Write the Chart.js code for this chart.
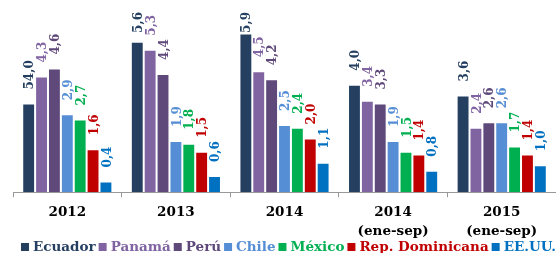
<!DOCTYPE html>
<html>
<head>
<meta charset="utf-8">
<script src="https://cdn.jsdelivr.net/npm/chart.js@4/dist/chart.umd.min.js"></script>
<style>
  html, body { margin: 0; padding: 0; background: #fff; }
  #wrap { width: 556px; height: 253px; }
</style>
</head>
<body>
<div id="wrap"><canvas id="chart"></canvas></div>
<script>
const categories = [["2012"], ["2013"], ["2014"], ["2014", "(ene-sep)"], ["2015", "(ene-sep)"]];

const countries = ["Ecuador", "Panamá", "Perú", "Chile", "México", "Rep. Dominicana", "EE.UU."];
const colors = ["#243F60", "#8064A2", "#5F497A", "#558ED5", "#00B050", "#C00000", "#0070C0"];

const ecuador = [3.3, 5.6, 5.9, 4.0, 3.6];
const panama = [4.3, 5.3, 4.5, 3.4, 2.4];
const peru = [4.6, 4.4, 4.2, 3.3, 2.6];
const chile = [2.9, 1.9, 2.5, 1.9, 2.6];
const mexico = [2.7, 1.8, 2.4, 1.5, 1.7];
const repDominicana = [1.6, 1.5, 2.0, 1.4, 1.4];
const eeuu = [0.4, 0.6, 1.1, 0.8, 1.0];

// the 2012 Ecuador label in the source reads "54,0"
const labelOverrides = { "0-0": "54,0" };

const series = [ecuador, panama, peru, chile, mexico, repDominicana, eeuu];
const serif = '"DejaVu Serif", "Liberation Serif", serif';

function labelText(i, j) {
    const key = i + "-" + j;
    if (labelOverrides[key]) return labelOverrides[key];
    return series[i][j].toFixed(1).replace(".", ",");
}

const barLabels = {
    id: 'barLabels',
    afterDatasetsDraw(chart) {
        const ctx = chart.ctx;
        ctx.save();
        ctx.font = 'bold 12px ' + serif;
        ctx.textBaseline = 'middle';
        ctx.textAlign = 'left';
        chart.data.datasets.forEach((ds, i) => {
            chart.getDatasetMeta(i).data.forEach((bar, j) => {
                const txt = labelText(i, j);
                const w = ctx.measureText(txt).width;
                let start = bar.y - 14;
                if (start - w < 12) start = 12 + w;
                ctx.save();
                ctx.translate(bar.x + 1.5, start);
                ctx.rotate(-Math.PI / 2);
                ctx.fillStyle = colors[i];
                ctx.fillText(txt, 0, 0);
                ctx.restore();
            });
        });
        ctx.restore();
    }
};

// legend runs off the right edge like the original, so draw it by hand
const flatLegend = {
    id: 'flatLegend',
    afterDraw(chart) {
        const ctx = chart.ctx;
        ctx.save();
        ctx.font = 'bold 13.5px ' + serif;
        ctx.textBaseline = 'middle';
        ctx.textAlign = 'left';
        let x = 21;
        const y = 247;
        chart.data.datasets.forEach((ds, i) => {
            ctx.fillStyle = colors[i];
            ctx.fillRect(x, y - 4, 8, 8);
            ctx.fillText(ds.label, x + 12, y + 0.5);
            x += 12 + ctx.measureText(ds.label).width + 3;
        });
        ctx.restore();
    }
};

new Chart("chart", {
    type: 'bar',
    data: {
        labels: categories,
        datasets: countries.map((name, i) => ({
            label: name,
            data: series[i],
            backgroundColor: colors[i],
            borderColor: "rgba(255,255,255,0.45)",
            borderWidth: 1,
            barPercentage: 1,
            categoryPercentage: 0.83
        }))
    },
    options: {
        responsive: true,
        maintainAspectRatio: false,
        animation: false,
        events: [],
        layout: {
            padding: { left: 13, right: 0, top: 4, bottom: 6 }
        },
        plugins: {
            legend: { display: false },
            tooltip: { enabled: false }
        },
        scales: {
            x: {
                grid: {
                    offset: true,
                    drawOnChartArea: false,
                    tickLength: 5,
                    color: "#999"
                },
                border: { color: "#999" },
                ticks: {
                    color: "#000",
                    padding: 6,
                    font: { family: serif, size: 13.5, weight: 'bold', lineHeight: 1.4 }
                }
            },
            y: {
                display: false,
                min: 0,
                max: 7
            }
        }
    },
    plugins: [barLabels, flatLegend]
});
</script>
</body>
</html>
